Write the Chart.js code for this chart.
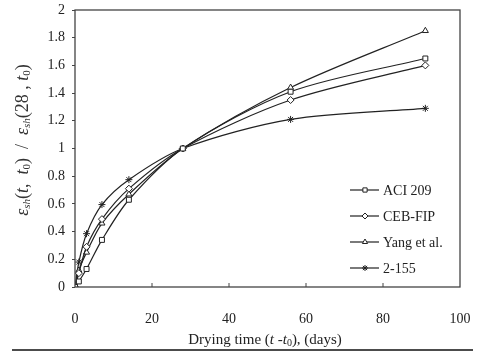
<!DOCTYPE html>
<html>
<head>
<meta charset="utf-8">
<script src="https://cdn.jsdelivr.net/npm/chart.js@4.4.1/dist/chart.umd.min.js"></script>
<style>
  body { margin: 0; background: #fff; }
  #wrap { width: 481px; height: 354px; position: relative; }
</style>
</head>
<body>
<div id="wrap"><canvas id="shrink" width="481" height="354"></canvas></div>
<script>
// drying time (days)
var days = [0, 1, 3, 7, 14, 28, 56, 91];
var aci209 = [0, 0.04, 0.13, 0.34, 0.63, 1.0, 1.41, 1.65];
var cebFip = [0, 0.1, 0.29, 0.49, 0.71, 1.0, 1.35, 1.6];
var yang = [0, 0.12, 0.25, 0.46, 0.67, 1.0, 1.44, 1.85];
var s2155 = [0, 0.18, 0.385, 0.595, 0.775, 1.0, 1.21, 1.29];
var names = ['ACI 209', 'CEB-FIP', 'Yang et al.', '2-155'];
var styles = ['rect', 'rectRot', 'triangle', 'star'];

function pts(vals) {
    var out = [];
    for (var i in days) {
        out.push({x: days[i], y: vals[i]});
    }
    return out;
}

var series = [aci209, cebFip, yang, s2155];
var datasets = [];
for (var i = 0; i < series.length; i++) {
    datasets.push({
        label: names[i],
        data: pts(series[i]),
        borderColor: '#222',
        borderWidth: 1.2,
        backgroundColor: '#fff',
        pointStyle: styles[i],
        pointRadius: 3.5,
        pointBorderWidth: 1,
        pointBorderColor: '#222',
        tension: 0.3
    });
}

var serif = "'Liberation Serif', 'Times New Roman', serif";

// text with italic letters and subscripts, centred on (x, y)
function richText(ctx, parts, x, y) {
    var total = 0;
    parts.forEach(function(p) {
        ctx.font = (p[1] ? 'italic ' : '') + p[2] + 'px ' + serif;
        total += ctx.measureText(p[0]).width;
    });
    var cx = x - total / 2;
    parts.forEach(function(p) {
        ctx.font = (p[1] ? 'italic ' : '') + p[2] + 'px ' + serif;
        ctx.fillText(p[0], cx, y + (p[3] || 0));
        cx += ctx.measureText(p[0]).width;
    });
}

var yTitle = [
    ['ε', 1, 18], ['sh', 1, 11, 4], ['(', 0, 18], ['t', 1, 18], [',  ', 0, 18], ['t', 1, 18], ['0', 0, 11, 4], [')  /  ', 0, 18],
    ['ε', 1, 18], ['sh', 1, 11, 4], ['(28 , ', 0, 18], ['t', 1, 18], ['0', 0, 11, 4], [')', 0, 18]
];
var xTitle = [
    ['Drying time (', 0, 15], ['t', 1, 15], [' -', 0, 15], ['t', 1, 15], ['0', 0, 10, 3], ['), (days)', 0, 15]
];

// frame, inside x ticks, titles, legend and bottom rule
var extras = {
    id: 'extras',
    afterDraw: function(chart) {
        var ctx = chart.ctx;
        var a = chart.chartArea;
        var xs = chart.scales.x;
        ctx.save();
        ctx.strokeStyle = '#444';
        ctx.lineWidth = 1.3;
        ctx.strokeRect(a.left, a.top, a.right - a.left, a.bottom - a.top);
        ctx.lineWidth = 1;
        for (var v = 20; v < 100; v += 20) {
            var px = xs.getPixelForValue(v);
            ctx.beginPath();
            ctx.moveTo(px, a.bottom);
            ctx.lineTo(px, a.bottom - 4);
            ctx.stroke();
        }
        // axis titles
        ctx.fillStyle = '#222';
        ctx.textBaseline = 'middle';
        richText(ctx, xTitle, 265, 340);
        ctx.save();
        ctx.translate(23, 140);
        ctx.rotate(-Math.PI / 2);
        ctx.fillStyle = '#333';
        richText(ctx, yTitle, 0, 0);
        ctx.restore();
        // legend
        for (var i = 0; i < chart.data.datasets.length; i++) {
            var ds = chart.data.datasets[i];
            var y = 190 + i * 26;
            ctx.strokeStyle = '#222';
            ctx.lineWidth = 1.2;
            ctx.beginPath();
            ctx.moveTo(350, y);
            ctx.lineTo(379, y);
            ctx.stroke();
            ctx.fillStyle = '#fff';
            ctx.lineWidth = 1;
            Chart.helpers.drawPoint(ctx, {pointStyle: ds.pointStyle, radius: 3, borderWidth: 1}, 365, y);
            ctx.fillStyle = '#222';
            ctx.font = '14px ' + serif;
            ctx.fillText(ds.label, 383, y + 1);
        }
        ctx.strokeStyle = '#111';
        ctx.lineWidth = 1.5;
        ctx.beginPath();
        ctx.moveTo(12, 350);
        ctx.lineTo(473, 350);
        ctx.stroke();
        ctx.restore();
    }
};

var ctx = document.getElementById('shrink');
var chart = new Chart(ctx, {
    type: 'line',
    data: {datasets: datasets},
    options: {
        responsive: false,
        animation: false,
        layout: {padding: {top: 10, right: 21, left: 0, bottom: 0}},
        plugins: {legend: {display: false}, tooltip: {enabled: false}},
        scales: {
            x: {
                type: 'linear',
                min: 0, max: 100,
                ticks: {stepSize: 20, color: '#222', font: {family: serif, size: 14}, padding: 24},
                grid: {display: false, drawTicks: false},
                border: {display: false},
                afterFit: function(s) { s.height = 67; s.paddingLeft = 0; s.paddingRight = 0; }
            },
            y: {
                min: 0, max: 2,
                ticks: {stepSize: 0.2, color: '#222', font: {family: serif, size: 14}, padding: 7,
                    callback: function(v) { return Math.round(v * 10) / 10; }},
                grid: {drawOnChartArea: false, tickLength: 3, color: '#444'},
                border: {display: false},
                afterFit: function(s) { s.width = 75; s.paddingTop = 0; s.paddingBottom = 0; }
            }
        }
    },
    plugins: [extras]
});
</script>
</body>
</html>
